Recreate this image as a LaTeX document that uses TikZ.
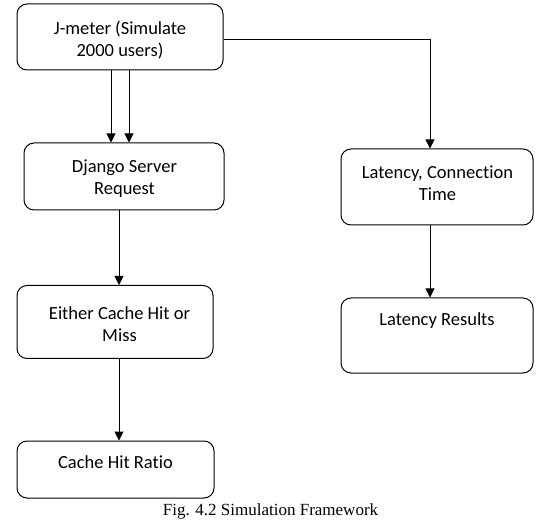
\documentclass[tikz,border=0pt]{standalone}
\usepackage{fontspec}
\setmainfont{Carlito}[Ligatures=NoCommon]
\newfontfamily\capfont{Liberation Serif}
\usetikzlibrary{arrows.meta}
\begin{document}
\begin{tikzpicture}[x=1pt,y=-1pt,
  box/.style={draw,line width=1pt,rounded corners=10pt,inner sep=0pt},
  txt/.style={font=\fontsize{18.5}{22}\selectfont,align=center,inner sep=0pt,anchor=base},
  arr/.style={line width=1pt,-{Triangle[width=9pt,length=9pt]}}]
\useasboundingbox (0,0) rectangle (549,521);
% boxes
\node[box,minimum width=206pt,minimum height=66pt] (jm) at (120,37) {};
\node[box,minimum width=200pt,minimum height=67pt] (dj) at (124,176.5) {};
\node[box,minimum width=196pt,minimum height=73pt] (ei) at (115,322) {};
\node[box,minimum width=197pt,minimum height=57pt] (ch) at (115.5,469.5) {};
\node[box,minimum width=192pt,minimum height=76pt] (lc) at (437,187) {};
\node[box,minimum width=192pt,minimum height=75pt] (lr) at (437,335.5) {};
% texts (anchored at the baseline of the last line)
\node[txt] (tjm) at (120,57) {J-meter (Simulate\\2000 users)};
\node[txt] (tdj) at (124.5,195) {Django Server\\Request};
\node[txt] (tei) at (119.5,341.5) {Either Cache Hit or\\Miss};
\node[txt] (tch) at (115.5,468) {Cache Hit Ratio};
\node[txt] (tlc) at (437.5,201) {Latency, Connection\\Time};
\node[txt] (tlr) at (437,326) {Latency Results};
\node[font=\capfont\fontsize{17}{19}\selectfont,inner sep=0pt,anchor=base] (cap) at (270.5,515) {Fig. 4.2 Simulation Framework};
% connectors
\draw[arr] (jm.south -| 111,0) -- (dj.north -| 111,0);
\draw[arr] (jm.south -| 129,0) -- (dj.north -| 129,0);
\draw[arr] (dj.south -| 119,0) -- (ei.north -| 119,0);
\draw[arr] (ei.south -| 119,0) -- (ch.north -| 119,0);
\draw[arr] (jm.east |- 0,40) -| (lc.north -| 430,0);
\draw[arr] (lc.south -| 430,0) -- (lr.north -| 430,0);
\end{tikzpicture}
\end{document}
